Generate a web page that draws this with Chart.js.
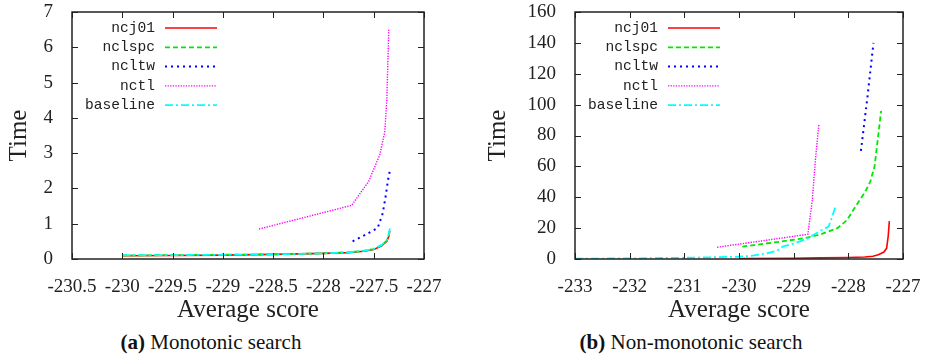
<!DOCTYPE html>
<html>
<head>
<meta charset="utf-8">
<script src="https://cdn.jsdelivr.net/npm/chart.js@4.4.0/dist/chart.umd.min.js"></script>
<style>
  html, body { margin: 0; padding: 0; background: #fff; }
  #wrap { position: relative; width: 928px; height: 356px; }
  .panel { position: absolute; top: 0; width: 464px; height: 325px; }
  .cap { position: absolute; top: 330px; font: 21px "Liberation Serif", "Times New Roman", serif; color: #111;
         white-space: nowrap; transform: translateX(-50%); }
</style>
</head>
<body>
<div id="wrap">
  <div class="panel" style="left:0"><canvas id="chartMono" width="464" height="325"></canvas></div>
  <div class="panel" style="left:464px"><canvas id="chartNonMono" width="464" height="325"></canvas></div>
  <div class="cap" style="left:211px"><b>(a)</b> Monotonic search</div>
  <div class="cap" style="left:691px"><b>(b)</b> Non-monotonic search</div>
</div>
<script>
// series names
const seriesLabels = ['ncj01', 'nclspc', 'ncltw', 'nctl', 'baseline'];

// (a) Monotonic search: [average score, time]
const monoNcj01 = [[-230.0, 0.09], [-229.5, 0.10], [-229.0, 0.11], [-228.5, 0.13], [-228.0, 0.16], [-227.75, 0.18],
  [-227.6, 0.22], [-227.5, 0.27], [-227.42, 0.37], [-227.37, 0.5], [-227.35, 0.64], [-227.34, 0.8]];
const monoNclspc = [[-230.0, 0.1], [-229.5, 0.11], [-229.0, 0.12], [-228.5, 0.13], [-228.0, 0.16], [-227.75, 0.19],
  [-227.6, 0.23], [-227.5, 0.28], [-227.42, 0.39], [-227.37, 0.52], [-227.35, 0.68], [-227.34, 0.85]];
const monoNcltw = [[-227.71, 0.5], [-227.6, 0.66], [-227.46, 0.88], [-227.41, 1.3], [-227.38, 1.8], [-227.36, 2.2], [-227.34, 2.5]];
const monoNctl = [[-228.64, 0.85], [-227.72, 1.52], [-227.55, 2.2], [-227.44, 2.95], [-227.39, 3.6], [-227.37, 4.5],
  [-227.36, 5.5], [-227.35, 6.5]];
const monoBaseline = [[-230.0, 0.11], [-229.5, 0.11], [-229.0, 0.12], [-228.5, 0.13], [-228.0, 0.16], [-227.75, 0.19],
  [-227.6, 0.23], [-227.5, 0.29], [-227.42, 0.4], [-227.37, 0.54], [-227.35, 0.7], [-227.34, 0.87]];

// (b) Non-monotonic search
const nonNcj01 = [[-230.0, 0.3], [-229.0, 0.5], [-228.5, 0.7], [-228.0, 1.0], [-227.7, 1.3], [-227.55, 1.8],
  [-227.45, 2.8], [-227.35, 4.5], [-227.3, 6.9], [-227.27, 15], [-227.25, 24.5]];
const nonNclspc = [[-229.94, 8], [-229.3, 11], [-228.8, 13.5], [-228.5, 16], [-228.2, 20], [-228.03, 25],
  [-227.85, 35], [-227.7, 43], [-227.6, 50], [-227.52, 60], [-227.46, 78], [-227.4, 96]];
const nonNcltw = [[-227.77, 70], [-227.65, 105], [-227.54, 140]];
const nonNctl = [[-230.4, 7.6], [-228.74, 16], [-228.66, 38], [-228.6, 65], [-228.54, 87]];
const nonBaseline = [[-233.0, 0.2], [-232.0, 0.4], [-231.0, 0.8], [-230.5, 1.1], [-230.0, 1.5], [-229.8, 2],
  [-229.5, 3.5], [-229.3, 5.5], [-229.2, 8], [-229.0, 10], [-228.76, 13], [-228.5, 18.5], [-228.36, 21],
  [-228.3, 27], [-228.23, 34.5]];

const lineStyles = [
  { borderColor: '#ff0000', borderWidth: 1.6, borderDash: [] },
  { borderColor: '#00e800', borderWidth: 1.8, borderDash: [5, 3] },
  { borderColor: '#0000ff', borderWidth: 2, borderDash: [2, 4] },
  { borderColor: '#ff00ff', borderWidth: 1.4, borderDash: [1.3, 1.3] },
  { borderColor: '#00ffff', borderWidth: 1.8, borderDash: [8, 3, 2, 3] }
];

const serif = '"Liberation Serif", "Times New Roman", serif';

// gnuplot-like frame with inward mirrored ticks
const frameTicks = {
  id: 'frameTicks',
  afterDatasetsDraw(chart) {
    const { ctx, chartArea: a, scales: { x, y } } = chart;
    const len = 6;
    ctx.save();
    ctx.strokeStyle = '#222';
    ctx.lineWidth = 1;
    ctx.beginPath();
    x.ticks.forEach(t => {
      const px = Math.round(x.getPixelForValue(t.value)) + 0.5;
      ctx.moveTo(px, a.bottom); ctx.lineTo(px, a.bottom - len);
      ctx.moveTo(px, a.top); ctx.lineTo(px, a.top + len);
    });
    y.ticks.forEach(t => {
      const py = Math.round(y.getPixelForValue(t.value)) + 0.5;
      ctx.moveTo(a.left, py); ctx.lineTo(a.left + len, py);
      ctx.moveTo(a.right, py); ctx.lineTo(a.right - len, py);
    });
    ctx.stroke();
    ctx.lineWidth = 1.5;
    ctx.strokeRect(a.left, a.top, a.width, a.height);
    ctx.restore();
  }
};

// key drawn inside the plot, text on the left, sample on the right
const keyBox = {
  id: 'keyBox',
  afterDatasetsDraw(chart) {
    const { ctx, chartArea: a } = chart;
    ctx.save();
    ctx.font = '14.6px "Liberation Mono", "DejaVu Sans Mono", monospace';
    ctx.textAlign = 'right';
    ctx.textBaseline = 'middle';
    chart.data.datasets.forEach((ds, i) => {
      const yy = a.top + 16 + i * 19.3;
      ctx.fillStyle = '#222';
      ctx.fillText(ds.label, a.left + 83, yy);
      ctx.strokeStyle = ds.borderColor;
      ctx.lineWidth = ds.borderWidth;
      ctx.setLineDash(ds.borderDash);
      ctx.beginPath();
      ctx.moveTo(a.left + 93, yy);
      ctx.lineTo(a.left + 145, yy);
      ctx.stroke();
    });
    ctx.restore();
  }
};

function makeChart(id, seriesList, xr, yr, yAxisWidth, rightPad, yTitlePad) {
  return new Chart(document.getElementById(id), {
    type: 'scatter',
    data: {
      datasets: seriesList.map((pts, i) => ({
        label: seriesLabels[i],
        data: pts.map(p => ({ x: p[0], y: p[1] })),
        showLine: true,
        pointRadius: 0,
        fill: false,
        order: 5 - i,
        ...lineStyles[i]
      }))
    },
    options: {
      responsive: false,
      animation: false,
      devicePixelRatio: 1,
      layout: { padding: { top: 12, right: rightPad, left: 0, bottom: 0 } },
      plugins: { legend: { display: false }, tooltip: { enabled: false } },
      scales: {
        x: {
          type: 'linear', min: xr[0], max: xr[1],
          grid: { display: false }, border: { display: false },
          ticks: { stepSize: xr[2], padding: 9, color: '#222', maxRotation: 0, minRotation: 0, autoSkip: false,
                   font: { family: serif, size: 19 }, callback: v => String(v) },
          title: { display: true, text: 'Average score', color: '#222', font: { family: serif, size: 25 }, padding: { top: 0, bottom: 0 } },
          afterFit: s => { s.height = 66; s.paddingLeft = 0; s.paddingRight = 0; }
        },
        y: {
          type: 'linear', min: yr[0], max: yr[1],
          grid: { display: false }, border: { display: false },
          ticks: { stepSize: yr[2], padding: 11, color: '#222', font: { family: serif, size: 19 }, callback: v => String(v) },
          title: { display: true, text: 'Time', color: '#222', font: { family: serif, size: 25 }, padding: { top: yTitlePad, bottom: 0 } },
          afterFit: s => { s.width = yAxisWidth; s.paddingTop = 0; s.paddingBottom = 0; }
        }
      }
    },
    plugins: [frameTicks, keyBox]
  });
}

makeChart('chartMono', [monoNcj01, monoNclspc, monoNcltw, monoNctl, monoBaseline],
  [-230.5, -227, 0.5], [0, 7, 1], 72, 40, 4.5);
makeChart('chartNonMono', [nonNcj01, nonNclspc, nonNcltw, nonNctl, nonBaseline],
  [-233, -227, 1], [0, 160, 20], 111, 25, 19.5);
</script>
</body>
</html>
